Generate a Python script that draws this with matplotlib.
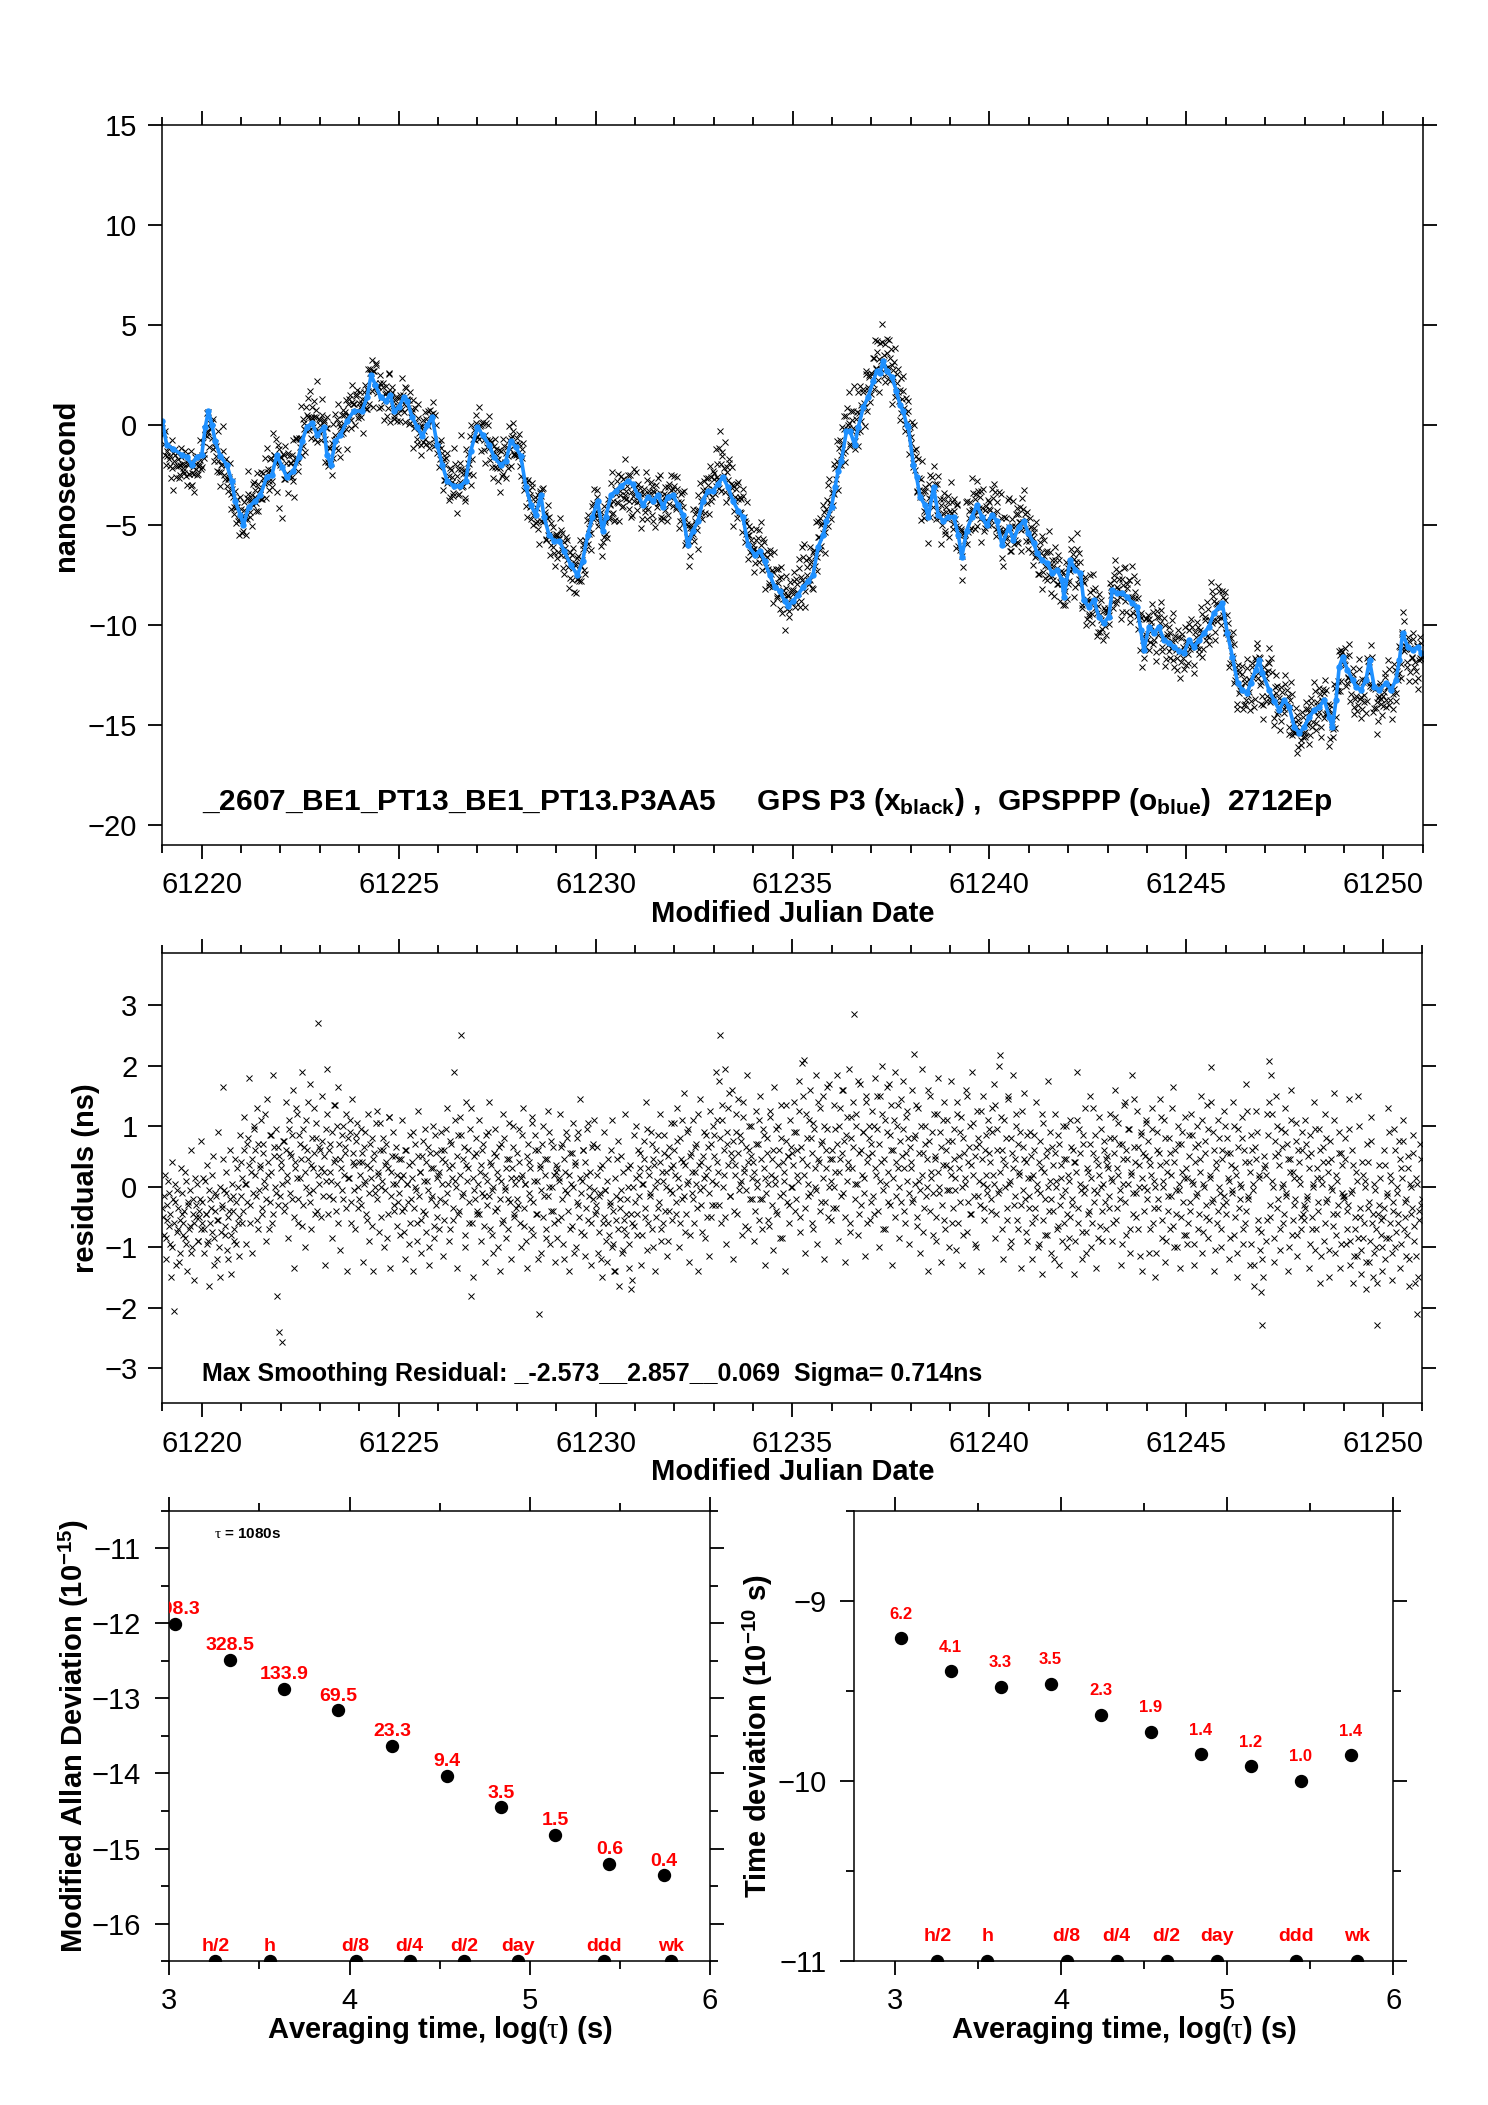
import numpy as np
import matplotlib
matplotlib.use("Agg")
import matplotlib.pyplot as plt
from matplotlib.ticker import MultipleLocator, FormatStrFormatter

plt.rcParams['font.family'] = ['Liberation Sans', 'DejaVu Sans']
plt.rcParams['mathtext.fontset'] = 'custom'
plt.rcParams['mathtext.rm'] = 'Liberation Sans:bold'
plt.rcParams['mathtext.bf'] = 'Liberation Sans:bold'
plt.rcParams['mathtext.it'] = 'Liberation Serif'
plt.rcParams['axes.unicode_minus'] = True

# ---------------- data ----------------
# GPSPPP (blue) time series, MJD and ns
blue_mjd = [
    61219.00, 61219.11, 61219.28, 61219.50, 61219.62, 61219.75, 61219.87, 61220.00, 61220.09, 61220.17,
    61220.26, 61220.34, 61220.47, 61220.64, 61220.76, 61220.85, 61220.98, 61221.06, 61221.19, 61221.36,
    61221.49, 61221.65, 61221.78, 61221.91, 61222.04, 61222.16, 61222.33, 61222.46, 61222.55, 61222.67,
    61222.80, 61222.93, 61223.10, 61223.18, 61223.28, 61223.39, 61223.52, 61223.69, 61223.86, 61224.07,
    61224.20, 61224.30, 61224.41, 61224.54, 61224.67, 61224.79, 61224.88, 61225.01, 61225.13, 61225.22,
    61225.34, 61225.47, 61225.60, 61225.73, 61225.85, 61225.98, 61226.11, 61226.23, 61226.40, 61226.57,
    61226.70, 61226.83, 61227.00, 61227.13, 61227.30, 61227.42, 61227.59, 61227.72, 61227.85, 61227.97,
    61228.10, 61228.23, 61228.36, 61228.48, 61228.61, 61228.69, 61228.82, 61228.95, 61229.08, 61229.20,
    61229.37, 61229.54, 61229.67, 61229.80, 61229.92, 61230.05, 61230.18, 61230.26, 61230.39, 61230.52,
    61230.65, 61230.82, 61230.94, 61231.07, 61231.20, 61231.33, 61231.45, 61231.58, 61231.71, 61231.83,
    61231.96, 61232.09, 61232.22, 61232.34, 61232.47, 61232.60, 61232.72, 61232.85, 61232.98, 61233.11,
    61233.23, 61233.36, 61233.49, 61233.62, 61233.74, 61233.87, 61234.04, 61234.17, 61234.29, 61234.42,
    61234.55, 61234.68, 61234.80, 61234.89, 61235.01, 61235.14, 61235.27, 61235.40, 61235.52, 61235.65,
    61235.78, 61235.86, 61235.99, 61236.08, 61236.16, 61236.24, 61236.37, 61236.46, 61236.58, 61236.67,
    61236.80, 61236.92, 61237.05, 61237.14, 61237.22, 61237.30, 61237.39, 61237.52, 61237.64, 61237.73,
    61237.81, 61237.90, 61237.94, 61238.07, 61238.15, 61238.24, 61238.36, 61238.45, 61238.58, 61238.70,
    61238.83, 61238.96, 61239.09, 61239.21, 61239.30, 61239.42, 61239.55, 61239.68, 61239.81, 61239.93,
    61240.06, 61240.19, 61240.32, 61240.49, 61240.61, 61240.74, 61240.87, 61240.99, 61241.12, 61241.21,
    61241.33, 61241.46, 61241.59, 61241.72, 61241.84, 61241.89, 61242.05, 61242.18, 61242.31, 61242.39,
    61242.52, 61242.65, 61242.78, 61242.90, 61243.03, 61243.12, 61243.24, 61243.37, 61243.50, 61243.62,
    61243.75, 61243.84, 61243.92, 61244.05, 61244.18, 61244.30, 61244.43, 61244.56, 61244.68, 61244.81,
    61244.94, 61245.07, 61245.19, 61245.32, 61245.45, 61245.57, 61245.70, 61245.83, 61245.91, 61246.04,
    61246.17, 61246.30, 61246.42, 61246.55, 61246.63, 61246.76, 61246.85, 61246.93, 61247.10, 61247.23,
    61247.36, 61247.48, 61247.61, 61247.74, 61247.87, 61247.99, 61248.12, 61248.25, 61248.37, 61248.50,
    61248.63, 61248.71, 61248.80, 61248.88, 61248.97, 61249.09, 61249.22, 61249.31, 61249.43, 61249.56,
    61249.65, 61249.77, 61249.90, 61250.07, 61250.20, 61250.32, 61250.41, 61250.49, 61250.62, 61250.75,
    61250.88, 61250.96]
blue_ns = [
    0.2, -1.0, -1.2, -1.5, -1.6, -2.0, -1.6, -1.5, -0.1, 0.7,
    0.0, -0.8, -1.55, -2.0, -2.8, -3.8, -4.5, -5.0, -4.1, -3.8,
    -3.5, -2.6, -2.5, -1.5, -2.1, -2.6, -2.3, -1.6, -0.8, -0.1,
    0.1, -0.5, -0.1, -1.5, -2.0, -0.8, -0.5, 0.2, 0.7, 0.7,
    1.4, 2.5, 2.0, 1.4, 1.2, 1.5, 0.7, 0.9, 1.4, 1.2,
    0.4, -0.1, -0.55, 0.0, 0.4, -1.0, -2.0, -2.8, -3.05, -3.05,
    -2.8, -1.3, -0.1, -0.5, -1.0, -1.6, -2.0, -1.8, -0.8, -1.1,
    -1.55, -3.1, -4.0, -4.5, -3.5, -4.6, -5.5, -5.8, -5.8, -6.3,
    -7.0, -7.5, -6.8, -5.5, -4.6, -3.8, -5.3, -4.6, -3.5, -3.3,
    -3.05, -2.8, -2.95, -3.5, -4.0, -3.6, -3.8, -3.5, -4.1, -3.6,
    -3.5, -4.0, -4.5, -6.0, -5.3, -4.8, -3.8, -3.3, -3.3, -2.95,
    -2.6, -3.1, -3.8, -4.3, -4.6, -6.0, -6.5, -6.3, -6.8, -7.5,
    -8.1, -8.3, -8.8, -9.05, -8.8, -8.5, -8.1, -7.8, -7.5, -6.1,
    -5.5, -4.8, -4.1, -3.1, -2.3, -1.8, -0.3, -0.3, -1.0, -0.1,
    0.9, 1.4, 2.2, 2.7, 2.6, 3.2, 2.7, 2.4, 1.7, 1.0,
    0.7, 0.0, -0.1, -2.0, -2.6, -3.6, -4.0, -4.6, -3.1, -4.5,
    -4.8, -4.6, -4.6, -5.5, -6.6, -5.3, -4.6, -4.0, -4.6, -5.0,
    -4.5, -4.8, -6.0, -5.1, -5.75, -5.1, -4.8, -5.4, -5.9, -6.4,
    -6.75, -6.9, -7.4, -7.25, -7.75, -8.6, -6.75, -7.25, -7.4, -8.75,
    -9.1, -8.75, -9.6, -9.9, -9.6, -8.25, -8.4, -8.4, -8.6, -8.9,
    -9.1, -10.25, -11.25, -10.1, -10.4, -10.1, -10.75, -10.9, -11.1, -11.3,
    -11.4, -10.75, -11.1, -10.75, -10.4, -10.1, -9.4, -9.1, -8.9, -10.4,
    -11.6, -12.9, -13.25, -13.4, -12.9, -12.25, -11.75, -12.4, -13.25, -13.8,
    -14.25, -13.75, -14.1, -15.1, -15.4, -15.1, -14.6, -14.25, -14.1, -13.75,
    -14.6, -15.1, -13.75, -12.1, -11.6, -12.25, -12.75, -13.1, -13.25, -12.75,
    -11.75, -13.1, -13.25, -12.9, -13.25, -12.75, -11.75, -10.4, -11.1, -11.25,
    -11.1, -11.4]

# GPS P3 smoothing residuals (units of 0.01 ns), 32 samples per day from MJD 61219.0
resid_start_mjd = 61219.0
resid_per_day = 32
resid_cns = [
    -35, -80, 20, -120, -55, -10, -95, -150, 40, -205, -25, -130, -5, -70, -110, 30, -45, -60, -85, 10, -140, -30, -65, 60, -100, -20, -155, -50, 5, -90, -40, 75,
    -60, 15, -110, -45, 35, -90, -165, -20, -75, 50, -130, -10, -55, 90, -100, -150, -35, 165, -5, -80, 25, -120, -40, 60, -145, -15, -70, 45, -95, 0, -50, 85,
    40, -60, 115, 5, -95, 70, 180, -30, 25, -110, 95, 60, -15, 130, -70, 35, 110, -45, 70, 0, -90, 145, 20, -25, 85, -60, 185, 50, -10, -180, 65, -240,
    30, -257, 75, -40, 140, 10, -85, 95, 55, -20, 160, -135, 40, 120, -60, 85, 15, 190, -30, 65, -100, 110, 45, -10, 170, -70, 30, 130, -45, 80, 270, 5,
    60, -50, 150, 25, -130, 95, 195, -15, 70, 10, -85, 135, 45, -40, 100, 165, -105, 30, 85, -20, 55, 120, -140, 15, 90, -60, 145, 40, -5, 75, 105, -35,
    -20, 95, 40, -125, 65, 10, -55, 120, -90, 30, 80, -140, 55, -10, 125, 20, -75, 105, 0, 60, -100, 35, 70, -45, 115, -135, 25, 90, -30, 50, 5, -65,
    45, -80, 15, 110, -35, -120, 60, 5, -95, 85, -20, 40, -140, 70, -5, -60, 125, 25, -110, 50, -40, 95, -75, 10, 65, -130, 30, -15, 100, -85, 55, -50,
    20, -70, 90, 45, -115, 60, -25, 130, 5, -90, 75, 35, -55, 190, 10, -135, 85, -40, 115, 250, -10, 65, -100, 140, 30, -60, 95, -180, -150, 50, -20, 80,
    -45, 110, 25, -90, 60, -15, -125, 85, 10, 140, -70, 35, -5, -110, 95, 50, -35, 15, -140, 70, -60, 120, 0, -85, 45, -20, 105, -120, 30, 65, -50, 15,
    55, -30, 95, -100, 20, 130, -65, 5, -135, 70, 40, -20, 115, -80, 10, 85, -45, 60, -210, 30, -110, 100, -15, 45, -70, 125, 0, -95, 75, -40, 20, -125,
    35, -85, 15, 120, -50, 70, -120, 25, 90, -10, -140, 55, 5, -65, 105, 40, -100, 80, -30, 145, -75, 10, 60, -115, 20, 95, -55, 0, -130, 65, -20, 110,
    -40, 65, -110, -15, 30, -150, -60, 90, -5, -125, 45, -80, -30, 110, -95, -140, 15, -55, 75, -165, -20, 50, -105, -70, 120, -45, 0, -135, 35, -170, -60, 85,
    -25, 100, -80, 20, 55, -130, 5, 75, -50, 140, -105, 30, -15, 90, -70, 45, -140, 60, 10, -35, 120, -90, 25, -60, 85, 0, -115, 50, -40, 105, -10, 35,
    60, -45, 130, 15, -100, 80, -20, 40, 155, -75, 5, 95, -125, 50, -10, 110, -60, 25, 70, -140, 35, 145, -30, 0, 90, -85, 20, 65, -115, 125, -50, 10,
    85, -30, 190, 40, 175, 250, -60, 110, 20, 195, -95, 70, 130, -15, 55, 160, -120, 35, 90, -45, 145, 5, 75, -80, 115, 25, -5, 185, -70, 60, 100, -20,
    40, -90, 125, 10, 70, -55, 150, -20, 95, 30, -130, 80, 5, -65, 115, 45, -105, 165, 15, -40, 100, 60, -85, 135, -10, 25, -140, 75, 50, -30, 110, 0,
    55, 140, -40, 90, 20, 175, -75, 65, 205, 210, -110, 120, 35, -15, 160, 80, -60, 105, 0, 185, -95, 45, 130, -25, 75, 150, -120, 30, 95, -50, 170, 10,
    60, -35, 135, 25, 185, -90, 100, 45, 160, -10, 75, -125, 115, 30, 195, -60, 80, 140, 286, 5, 120, -80, 55, 170, -30, 90, 15, -115, 150, 40, 100, -55,
    70, 125, -45, 180, 20, 95, -100, 150, 40, 200, -70, 110, 5, 165, -25, 85, 135, -130, 60, 190, -15, 100, 30, -85, 145, 50, 175, -40, 115, 10, 80, -95,
    40, 160, -20, 220, 85, -65, 130, 10, -110, 195, 55, -35, 100, 0, -140, 75, 150, 25, -80, 120, 45, -50, 180, -10, 90, -125, 35, 140, -70, 60, 110, -5,
    30, 175, -60, 95, 15, -105, 140, 50, -25, 115, -130, 80, 5, 160, -75, 40, 100, -45, 190, 20, -95, 65, 125, -15, 70, -140, 45, 150, -35, 85, 0, 110,
    55, -40, 130, 20, 170, -85, 95, -10, 200, 217, 60, -120, 110, 35, -55, 145, 5, -100, 80, 185, -30, 45, 120, -70, 25, 90, -135, 65, 155, -20, 40, -90,
    -35, 90, 15, -120, 60, -50, 140, -5, -95, 75, 30, -145, 105, -20, 50, -80, 175, 10, -110, 65, -40, 120, 0, -70, 85, -130, 35, -15, 100, -60, 45, -100,
    20, -85, 110, -30, 60, -145, 40, 190, -60, 95, 5, -120, 70, -10, 130, -75, 25, -40, 150, -100, 55, -5, 85, -135, 35, 115, -65, 0, -90, 75, -25, 45,
    50, -35, 120, 15, -90, 80, 160, -55, 30, 105, -20, -130, 70, 5, 140, -80, 45, 95, -110, 20, 185, -45, 65, -10, 125, -70, 35, 90, -140, 55, 0, 110,
    -20, 75, -110, 35, 130, -60, 10, -150, 90, -35, 55, 145, -85, 0, 110, -125, 40, -15, 80, -70, 20, 165, -100, 60, -45, 100, -5, -135, 70, 25, -80, 115,
    30, -95, 85, -40, 120, 10, -130, 65, -15, 100, -70, 45, 150, -110, 5, 75, -50, 135, -85, 20, 197, -25, 90, -140, 40, -60, 110, 0, -100, 60, -30, 125,
    -45, 80, 15, -120, 55, -10, 140, -80, 30, -150, 95, -35, 5, 115, -95, 60, -60, 170, -20, 40, -130, 85, -5, -165, 65, 125, -70, 20, -105, -175, -228, 50,
    35, -90, 120, 207, -50, 185, 10, -125, 75, 150, -35, 55, -105, 95, 0, -60, 130, -15, 70, -140, 45, 160, -80, 25, -30, 105, -115, 60, 15, -70, 90, -45,
    -55, 110, -20, 50, -135, 85, -70, 5, 140, -105, 30, -40, 95, -160, 15, 65, -90, 120, -25, 40, -150, 75, 0, -65, 155, -110, 20, -45, 90, -135, 55, -10,
    -20, 80, -95, -40, 145, -130, -10, 60, -160, -70, 25, -115, 150, -50, -145, 40, -85, 10, -170, 70, -35, -125, 115, -60, -150, 5, -100, -228, -45, 35, -80, -140,
    -50, 60, -120, -15, 130, -85, 20, -155, -40, 95, -100, -10, -60, 75, -135, 30, 110, -70, -25, -115, 50, -165, 5, -45, 85, -90, -160, 15, -210, -55, 70, -30]

# second interleaved set of residual samples (0.01 ns), half a step later
resid2_cns = [
    -50, -15, -85, -30, 10, -65, -45, -100, -20, -60, 5, -75, -35, -125, -55, -10, -80, -40, 25, -95, -25, -70, -5, -110, -45, -60, 15, -30, -90, -50, -20, -70,
    -25, -70, 10, -45, -95, -5, -60, -35, 20, -85, -40, -15, -120, -55, 0, -75, -30, 45, -65, -10, -105, -50, -20, -80, 5, -40, -90, -25, 30, -60, -115, -15,
    15, -40, 60, 5, -25, 80, 35, -60, 45, -10, 100, 20, -55, 70, -5, 30, -35, 55, 10, 120, -20, 40, -70, 85, 25, -45, 65, 0, 95, -30, 50, -15,
    40, 5, 75, -30, 60, 20, 110, -10, 50, 85, -50, 30, 130, 15, -20, 70, 45, -65, 95, 25, 0, 60, 140, -25, 35, 80, -5, 55, 105, -40, 20, 65,
    30, 75, -15, 50, 10, 120, -45, 60, 25, 90, -20, 40, 135, 5, -60, 70, 45, -5, 100, 20, 65, -35, 80, 15, 110, -25, 55, 35, -70, 85, 0, 40,
    20, -30, 55, 5, 90, -45, 35, -10, 70, 15, -65, 45, 0, 105, -20, 25, 60, -50, 10, 80, -5, 40, -85, 30, 115, -15, 50, 5, -40, 65, 20, -25,
    -10, 45, -40, 20, -75, 60, 5, -25, 35, -60, 15, 90, -35, 0, -90, 50, -15, 25, -55, 75, 10, -45, 40, -5, -100, 55, -20, 30, -65, 85, -30, 15,
    25, -20, 60, 5, -55, 40, 95, -10, 30, -70, 70, 15, -35, 110, 0, 50, -45, 20, 85, -15, 45, -80, 35, 10, 60, -25, 130, -60, 15, -5, 55, -40,
    5, -45, 35, -10, 70, -65, 20, -30, 90, -15, 40, -80, 0, 55, -40, 25, -100, 65, -20, 10, -55, 80, -5, 30, -70, 45, -25, 15, 100, -45, 5, -35,
    -20, 40, -60, 15, 85, -35, 5, -90, 50, -10, 30, -70, 105, -25, 60, -45, 10, -120, 35, -5, 70, -50, 20, -85, 45, -15, 90, -40, 0, 65, -60, 25,
    30, -55, 10, 65, -20, -95, 45, -5, 80, -40, 20, -70, 55, 0, -110, 35, -25, 90, -50, 15, -10, 60, -80, 40, -35, 105, -15, 25, -60, 70, -5, -45,
    -30, 20, -75, -10, -120, 35, -50, -5, -90, 10, -60, -25, 60, -100, -40, -140, -15, 45, -70, -35, -5, -110, 25, -55, -80, -20, 30, -95, -45, -155, 0, -65,
    15, -45, 60, -15, 30, -80, 5, 45, -35, 95, -60, 20, -10, 70, -100, 35, 0, -50, 85, -25, 40, -70, 10, 55, -40, 25, -90, 65, -5, 30, -55, 105,
    20, -25, 75, 0, -60, 45, 110, -15, 35, -45, 90, 10, -80, 55, 25, -20, 65, 5, -35, 120, -5, 40, -75, 50, 15, 85, -50, 30, -10, 70, -30, 100,
    50, 5, 110, 25, -30, 80, 135, 0, 60, -50, 90, 35, 155, -15, 45, 75, -40, 20, 120, 55, -5, 85, 10, 140, 30, -65, 65, 40, 100, -20, 50, 15,
    25, -40, 70, 0, 110, -20, 45, -70, 85, 15, -10, 55, -55, 125, 20, -30, 60, 5, 95, -45, 35, -15, 80, -85, 40, 10, 135, -25, 50, -60, 65, 0,
    35, 90, -20, 60, 10, 125, -50, 45, 150, 20, -35, 80, 5, 110, -10, 55, -70, 95, 30, -5, 140, 40, -40, 70, 15, 100, -25, 60, 165, 0, 45, -55,
    45, 0, 95, -35, 70, 25, 130, -15, 55, 160, -50, 85, 10, 40, -75, 115, 30, 65, -20, 100, 5, 175, -45, 60, 20, 90, -10, 140, -60, 50, 80, -25,
    55, -15, 100, 30, 150, -40, 70, 10, 120, -5, 45, -70, 90, 25, 170, -30, 60, 15, 110, -50, 40, 135, 0, 75, -25, 95, 30, -60, 55, 125, -10, 65,
    30, -25, 80, 5, 135, -50, 55, -5, 100, 20, -75, 70, -15, 45, 160, -40, 15, 90, -10, 50, -90, 120, 25, 0, 65, -30, 110, -55, 35, -5, 75, -100,
    20, 75, -35, 45, -5, 120, -60, 30, 90, 0, -80, 55, 15, 150, -25, 65, -45, 35, 105, -15, 50, -100, 80, 10, -30, 125, 5, -55, 60, 20, -10, 95,
    40, -20, 90, 5, 135, -45, 60, -5, 25, 115, -70, 45, 0, 80, -35, 150, 10, -90, 55, 30, -15, 100, -55, 70, 20, -30, 125, -5, 45, -75, 85, 15,
    -15, 50, -60, 20, 85, -35, 5, -100, 40, -10, 120, -55, 25, -80, 60, 0, -40, 90, -20, 35, -120, 55, 10, -65, 70, -30, 15, -90, 45, -5, 100, -45,
    10, -50, 65, -20, 40, -90, 25, 110, -35, 55, -5, -75, 85, 0, -110, 30, -45, 70, 15, -60, 130, -25, 45, -10, -85, 20, 95, -40, 5, 60, -70, 35,
    30, -15, 80, 10, -60, 55, 115, -35, 20, 70, -5, -95, 45, 135, -25, 60, 5, 95, -70, 25, -10, 145, 40, -50, 65, 0, -115, 85, 15, -40, 50, 105,
    -5, 45, -70, 20, 95, -35, 0, -110, 60, -20, 35, 115, -55, 10, 80, -90, 25, -40, 55, -15, 130, -65, 40, -5, -100, 70, 5, -50, 90, -25, 15, -80,
    15, -60, 50, -25, 85, 5, -95, 40, -10, 70, -45, 25, 110, -75, 0, 55, -30, 95, -55, 15, 140, -20, 60, -105, 30, -40, 80, -10, -70, 45, -15, 100,
    -25, 55, 10, -85, 35, -5, 100, -50, 20, -110, 65, -20, 0, 80, -70, 40, -40, 125, -15, 25, -95, 60, 5, -130, 45, 90, -55, 15, -75, -120, -150, 30,
    20, -55, 85, 140, -30, 120, 0, -85, 50, 100, -20, 35, -70, 65, 5, -45, 90, -10, 45, -100, 25, 110, -55, 15, -20, 75, -80, 40, 5, -50, 60, -30,
    -35, 70, -15, 30, -95, 55, -50, 0, 95, -70, 15, -25, 60, -115, 5, 40, -60, 80, -20, 25, -105, 45, -5, -45, 110, -80, 10, -30, 55, -95, 35, -15,
    -15, 45, -70, -30, 95, -90, -5, 35, -115, -50, 10, -85, 100, -35, -105, 20, -60, 0, -125, 40, -25, -90, 75, -45, -110, -5, -70, -160, -30, 15, -55, -100,
    -35, 35, -85, -10, 90, -60, 10, -110, -25, 60, -75, 0, -45, 45, -95, 15, 75, -50, -20, -80, 30, -120, 0, -35, 55, -65, -115, 5, -150, -40, 45, -20]

top_label = ("_2607_BE1_PT13_BE1_PT13.P3AA5     GPS P3 (x$_{\\mathbf{black}}$) ,  "
             "GPSPPP (o$_{\\mathbf{blue}}$)  2712Ep")
resid_label = "Max Smoothing Residual: _-2.573__2.857__0.069  Sigma= 0.714ns"

# stability analysis
tau_s = [1080, 2160, 4320, 8640, 17280, 34560, 69120, 138240, 276480, 552960]
mdev_e15 = [998.3, 328.5, 133.9, 69.5, 23.3, 9.4, 3.54, 1.53, 0.63, 0.44]
tdev_e10 = [6.22, 4.08, 3.34, 3.47, 2.33, 1.88, 1.41, 1.21, 1.00, 1.39]
span_s = [1800, 3600, 10800, 21600, 43200, 86400, 259200, 604800]
span_lbl = ["h/2", "h", "d/8", "d/4", "d/2", "day", "ddd", "wk"]

# ---------------- plotting ----------------
BLUE = '#1E90FF'
RED = '#FF0000'
fig = plt.figure(figsize=(14.88, 21.05), dpi=100)


def frame(ax, xmaj, xmin, ymaj, ymin, ypad=8):
    ax.xaxis.set_major_locator(MultipleLocator(xmaj))
    if xmin:
        ax.xaxis.set_minor_locator(MultipleLocator(xmin))
    ax.yaxis.set_major_locator(MultipleLocator(ymaj))
    if ymin:
        ax.yaxis.set_minor_locator(MultipleLocator(ymin))
    ax.tick_params(which='both', direction='out', top=True, right=True,
                   width=1.3, labelsize=21, colors='black')
    ax.tick_params(which='major', length=10)
    ax.tick_params(which='minor', length=5.5)
    ax.tick_params(axis='x', pad=9)
    ax.tick_params(axis='y', pad=ypad)
    for sp in ax.spines.values():
        sp.set_linewidth(1.1)


t_res = np.concatenate([
    resid_start_mjd + np.arange(len(resid_cns)) / resid_per_day,
    resid_start_mjd + (np.arange(len(resid2_cns)) + 0.5) / resid_per_day])
resid_ns = np.concatenate([resid_cns, resid2_cns]) / 100.0
black_ns = np.interp(t_res, blue_mjd, blue_ns) + resid_ns

# --- top panel
ax1 = fig.add_axes([0.1091, 0.5986, 0.8470, 0.3420])
ax1.plot(t_res, black_ns, ls='none', marker='x', color='black', ms=4.5, mew=0.7)
ax1.plot(blue_mjd, blue_ns, '-', color=BLUE, lw=2.6)
ax1.plot(blue_mjd, blue_ns, ls='none', marker='o', color=BLUE, ms=4.6, mew=0)
ax1.set_xlim(61219, 61251)
ax1.set_ylim(-21, 15)
frame(ax1, 5, 1, 5, None)
ax1.xaxis.set_major_formatter(FormatStrFormatter('%d'))
ax1.set_xlabel('Modified Julian Date', fontsize=21, fontweight='bold', va='center')
ax1.xaxis.set_label_coords(0.5, -0.0958)
ax1.set_ylabel('nanosecond', fontsize=21, fontweight='bold', va='center')
ax1.yaxis.set_label_coords(-0.0761, 0.5)
ax1.text(61220, -19.25, top_label, fontsize=21.5, fontweight='bold', va='baseline')

# --- residual panel
ax2 = fig.add_axes([0.1092, 0.3334, 0.8467, 0.2138])
ax2.plot(t_res, resid_ns, ls='none', marker='x', color='black', ms=4.5, mew=0.7)
ax2.set_xlim(61219, 61251)
ax2.set_ylim(-3.58, 3.86)
frame(ax2, 5, 1, 1, None)
ax2.xaxis.set_major_formatter(FormatStrFormatter('%d'))
ax2.set_xlabel('Modified Julian Date', fontsize=21, fontweight='bold', va='center')
ax2.xaxis.set_label_coords(0.5, -0.1533)
ax2.set_ylabel('residuals (ns)', fontsize=21, fontweight='bold', va='center')
ax2.yaxis.set_label_coords(-0.061, 0.5)
ax2.text(61220, -3.21, resid_label, fontsize=18, fontweight='bold', va='baseline')


def stab_panel(ax, vals, scale, xlim, ylim, off, numsize, ylabel, ypad):
    lx = np.log10(tau_s)
    ly = np.log10(np.array(vals) * scale)
    ax.set_xlim(*xlim)
    ax.set_ylim(*ylim)
    ax.plot(lx, ly, ls='none', marker='o', color='black', ms=8.6)
    for x, y, v in zip(lx, ly, vals):
        ax.annotate(f'{v:.1f}', (x, y), xytext=(0, off), textcoords='offset points',
                    ha='center', va='center', color=RED, fontsize=numsize,
                    fontweight='bold', clip_on=True)
    sx = np.log10(span_s)
    ybot = ax.get_ylim()[0]
    ax.plot(sx, [ybot] * len(sx), ls='none', marker='o', color='black', ms=8.6, clip_on=True)
    for x, l in zip(sx, span_lbl):
        ax.annotate(l, (x, ybot), xytext=(0, off), textcoords='offset points',
                    ha='center', va='center', color=RED, fontsize=14,
                    fontweight='bold', clip_on=True)
    frame(ax, 1, 0.5, 1, 0.5, ypad=ypad)
    ax.set_xlabel('Averaging time, log($\\tau$) (s)', fontsize=21, fontweight='bold', va='center')
    ax.xaxis.set_label_coords(0.5, -0.1533)
    ax.set_ylabel(ylabel, fontsize=21, fontweight='bold', va='center')
    ax.yaxis.set_label_coords(-0.177, 0.5)


ax3 = fig.add_axes([0.1138, 0.0684, 0.3633, 0.2138])
stab_panel(ax3, mdev_e15, 1e-15, (3, 6), (-16.5, -10.5), 10.1, 14,
           'Modified Allan Deviation (10$^{\\mathbf{-15}}$)', 10.5)
ax3.text(3.248, -10.805, '$\\tau$ = 1080s', fontsize=11, fontweight='bold', va='center')

ax4 = fig.add_axes([0.5736, 0.0684, 0.3628, 0.2138])
stab_panel(ax4, tdev_e10, 1e-10, (2.75, 6), (-11, -8.5), 17.3, 12,
           'Time deviation (10$^{\\mathbf{-10}}$ s)', 9)

fig.savefig('out.png', dpi=100)
